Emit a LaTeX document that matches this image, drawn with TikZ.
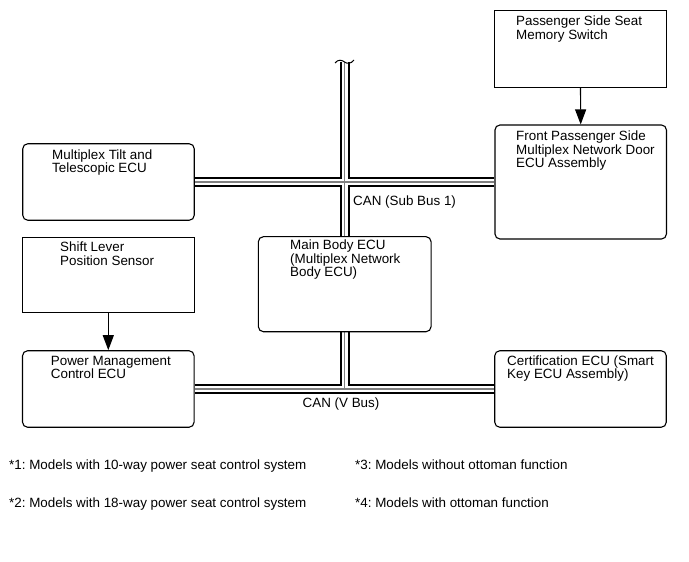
\documentclass[tikz,border=0pt]{standalone}
\usepackage{fontspec}
\setmainfont{Liberation Sans}
\usetikzlibrary{arrows.meta,backgrounds}
\newcommand\mylines[1]{\vtop{\baselineskip=13.3bp\lineskiplimit=-20bp\halign{##\hfil\cr#1\crcr}}}
\begin{document}
\begin{tikzpicture}[x=1bp,y=-1bp,
  box/.style={draw=black, line width=1.1bp, rectangle, inner sep=0pt, minimum width=171.5bp, minimum height=76.5bp},
  rbox/.style={box, rounded corners=5bp},
  txt/.style={anchor=base west, inner sep=0pt, font=\fontsize{13.4bp}{13.3bp}\selectfont\frenchspacing},
  lbl/.style={inner sep=0pt, font=\fontsize{13.4bp}{13.3bp}\selectfont\frenchspacing},
  arr/.style={line width=1.1bp, -{Triangle[length=15bp,width=11bp]}}
]
\useasboundingbox (0,0) rectangle (689,562);
% boxes
\node[box]  (b1) at (580.5,49) {};
\node[rbox, minimum height=114bp] (b2) at (580.7,182) {};
\node[rbox] (b3) at (108.5,182) {};
\node[box, minimum height=75.5bp] (b4) at (108.3,275) {};
\node[rbox, minimum width=172.7bp, minimum height=95bp] (b5) at (344.7,284.2) {};
\node[rbox] (b6) at (108.3,389) {};
\node[rbox] (b7) at (580.5,389) {};
% texts
\node[txt] (t1) at (516,26) {\mylines{Passenger Side Seat\cr Memory Switch}};
\node[txt] (t2) at (516,141) {\mylines{Front Passenger Side\cr Multiplex Network Door\cr ECU Assembly}};
\node[txt] (t3) at (52,159.3) {\mylines{Multiplex Tilt and\cr Telescopic ECU}};
\node[txt] (t4) at (60,252) {\mylines{Shift Lever\cr Position Sensor}};
\node[txt] (t5) at (290,250) {\mylines{Main Body ECU\cr (Multiplex Network\cr Body ECU)}};
\node[txt] (t6) at (50.7,365.3) {\mylines{Power Management\cr Control ECU}};
\node[txt] (t7) at (507,365) {\mylines{Certification ECU (Smart\cr Key ECU Assembly)}};
% bus labels
\node[txt] (lsub) at (353,206) {CAN (Sub Bus 1)};
\node[lbl, anchor=base] (lv) at (341,407.5) {CAN (V Bus)};
% footnotes
\node[txt] (f1) at (9,469.5) {*1: Models with 10-way power seat control system};
\node[txt] (f2) at (9,507) {*2: Models with 18-way power seat control system};
\node[txt] (f3) at (355,469.5) {*3: Models without ottoman function};
\node[txt] (f4) at (355,507) {*4: Models with ottoman function};
% arrows
\draw[arr] (b1.south) -- (b2.north);
\draw[arr] (b4.south) -- (b6.north);
% buses
\coordinate (top) at (b5.north |- 0,62);
\coordinate (vj) at (b5.south |- b6.east);
\begin{scope}[on background layer]
\foreach \lw/\col in {10bp/black,6bp/white,1.2bp/gray} {
  \draw[line width=\lw, draw=\col] (top) -- (b5.north) (b3.east) -- (b2.west) (b5.south) -- (vj) (b6.east) -- (b7.west);
}
\end{scope}
\draw[line width=1bp] (335,63) .. controls (338,59) and (342,60) .. (344.6,62) .. controls (347,64) and (351,64) .. (354,60);
\end{tikzpicture}
\end{document}
